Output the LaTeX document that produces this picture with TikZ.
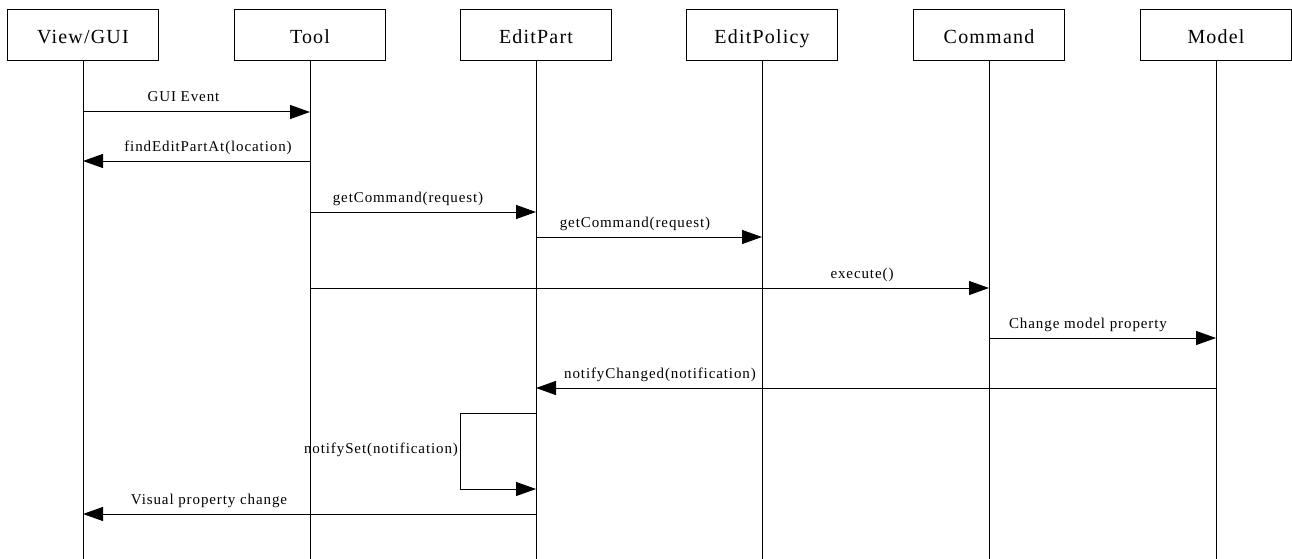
\documentclass[tikz,border=0pt]{standalone}
\usepackage{fontspec}
\setmainfont{Liberation Serif}[LetterSpace=6]
\usetikzlibrary{arrows.meta}
\tikzset{
  obj/.style={draw, line width=1pt, minimum width=151pt, minimum height=51pt, inner sep=0pt, text height=17pt, text depth=0pt, font=\fontsize{20}{24}\selectfont},
  life/.style={line width=1pt},
  msg/.style={line width=1pt, -{Triangle[length=20pt,width=14pt]}},
  lbl/.style={anchor=base, inner sep=0pt, font=\fontsize{15}{18}\selectfont},
}
\begin{document}
\begin{tikzpicture}[x=1pt,y=-1pt]
\useasboundingbox[fill=white] (0,0) rectangle (1292,559);
% objects
\node[obj] (view) at (83,35.5) {View/GUI};
\node[obj] (tool) at (310,35.5) {Tool};
\node[obj] (ep) at (536,35.5) {EditPart};
\node[obj] (pol) at (762,35.5) {EditPolicy};
\node[obj] (cmd) at (989,35.5) {Command};
\node[obj] (mod) at (1216,35.5) {Model};
% lifeline ends
\coordinate (viewE) at (83,559);
\coordinate (toolE) at (310,559);
\coordinate (epE) at (536,559);
\coordinate (polE) at (762,559);
\coordinate (cmdE) at (989,559);
\coordinate (modE) at (1216,559);
\draw[life] (view) -- (viewE);
\draw[life] (tool) -- (toolE);
\draw[life] (ep) -- (epE);
\draw[life] (pol) -- (polE);
\draw[life] (cmd) -- (cmdE);
\draw[life] (mod) -- (modE);
% message points
\coordinate (v1) at (83,112);   \coordinate (t1) at (310,112);
\coordinate (t2) at (310,161);  \coordinate (v2) at (83,161);
\coordinate (t3) at (310,212);  \coordinate (e3) at (536,212);
\coordinate (e4) at (536,237);  \coordinate (p4) at (762,237);
\coordinate (t5) at (310,288);  \coordinate (c5) at (989,288);
\coordinate (c6) at (989,338);  \coordinate (m6) at (1216,338);
\coordinate (m7) at (1216,388); \coordinate (e7) at (536,388);
\coordinate (e8) at (536,413);  \coordinate (e8b) at (536,489);
\coordinate (e9) at (536,514);  \coordinate (v9) at (83,514);
% messages
\draw[msg] (v1) -- (t1);
\draw[msg] (t2) -- (v2);
\draw[msg] (t3) -- (e3);
\draw[msg] (e4) -- (p4);
\draw[msg] (t5) -- (c5);
\draw[msg] (c6) -- (m6);
\draw[msg] (m7) -- (e7);
\draw[msg] (e8) -- (460,413) -- (460,489) -- (e8b);
\draw[msg] (e9) -- (v9);
% labels
\node[lbl] (l1) at (183.5,102) {GUI Event};
\node[lbl] (l2) at (208,151) {findEditPartAt(location)};
\node[lbl] (l3) at (408,202) {getCommand(request)};
\node[lbl] (l4) at (635,227) {getCommand(request)};
\node[lbl] (l5) at (862,278) {execute()};
\node[lbl] (l6) at (1088,328) {Change model property};
\node[lbl] (l7) at (660,378) {notifyChanged(notification)};
\node[lbl] (l8) at (381,453) {notifySet(notification)};
\node[lbl] (l9) at (209,504) {Visual property change};
\end{tikzpicture}
\end{document}
